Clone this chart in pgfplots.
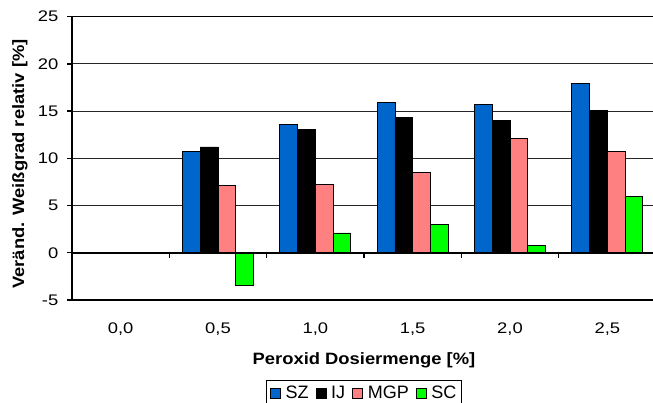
\documentclass[border=0pt]{standalone}
\usepackage{fontspec}
\setmainfont{Liberation Sans}
\newfontfamily\tickfont[FakeStretch=1.2]{Liberation Sans}
\newfontfamily\labfont[FakeStretch=1.12]{Liberation Sans}
\usepackage{pgfplots}
\pgfplotsset{compat=1.18}
\definecolor{cSZ}{RGB}{0,102,204}
\definecolor{cIJ}{RGB}{0,0,0}
\definecolor{cMGP}{RGB}{255,128,128}
\definecolor{cSC}{RGB}{0,255,0}
\begin{document}
\begin{tikzpicture}
\path[use as bounding box] (0pt,0pt) rectangle (489.75pt,302.25pt);
\begin{axis}[
  at={(54pt,77.25pt)}, anchor=south west,
  scale only axis, width=438pt, height=212.5pt,
  ybar=0pt, bar width=13.3pt,
  xmin=-0.5, xmax=5.5, ymin=-5, ymax=25,
  xtick={0,1,2,3,4,5},
  xticklabels={{0,0},{0,5},{1,0},{1,5},{2,0},{2,5}},
  ytick={-5,0,5,10,15,20,25},
  axis x line*=bottom, axis y line*=left,
  axis line style={line width=1.1pt},
  x axis line style={-}, y axis line style={-},
  ymajorgrids, grid style={black!85, line width=0.75pt},
  tick align=outside, major tick length=3.75pt,
  major x tick style={draw=none},
  major y tick style={black, line width=1pt},
  /pgf/number format/assume math mode=true,
  tick label style={font=\tickfont\fontsize{11.5pt}{13pt}\selectfont},
  xticklabel style={yshift=-9.7pt},
  yticklabel style={xshift=-3pt},
  xlabel={Peroxid Dosiermenge [\%]},
  ylabel={Veränd. Weißgrad relativ [\%]},
  label style={font=\labfont\bfseries\fontsize{12.3pt}{14pt}\selectfont},
  xlabel style={at={(axis description cs:0.5,-0.17)}, anchor=north},
  ylabel style={at={(axis description cs:-0.089,0.48)}, anchor=center},
  legend columns=4,
  legend style={at={(axis description cs:0.5,-0.282)}, anchor=north,
    draw=black, line width=0.75pt, inner sep=3pt,
    font=\fontsize{13.5pt}{15pt}\selectfont,
    /tikz/every odd column/.append style={column sep=2.5pt},
    /tikz/every even column/.append style={column sep=4pt},
    nodes={inner sep=1.2pt}},
  legend image code/.code={\draw[#1, draw=black, line width=0.5pt] (0pt,-3.7pt) rectangle (7.5pt,3.8pt);},
  every axis plot/.append style={draw=black, line width=0.6pt},
]
\addplot[fill=cSZ] coordinates {(1,10.7) (2,13.6) (3,15.9) (4,15.7) (5,17.9)};
\addplot[fill=cIJ] coordinates {(1,11.2) (2,13.1) (3,14.3) (4,14.0) (5,15.1)};
\addplot[fill=cMGP] coordinates {(1,7.1) (2,7.25) (3,8.5) (4,12.1) (5,10.7)};
\addplot[fill=cSC] coordinates {(1,-3.5) (2,2.1) (3,3.0) (4,0.8) (5,5.95)};
\legend{SZ,IJ,MGP,SC}
\draw[line width=1.1pt] (axis cs:-0.5,0) -- (axis cs:5.5,0);
\draw[line width=1.1pt] (axis cs:-0.5,25) -- (axis cs:5.5,25);
\pgfplotsinvokeforeach{0.5,1.5,2.5,3.5,4.5}{\draw[line width=1pt] (axis cs:#1,0) -- ++(0pt,-4pt);}
\end{axis}
\end{tikzpicture}
\end{document}
